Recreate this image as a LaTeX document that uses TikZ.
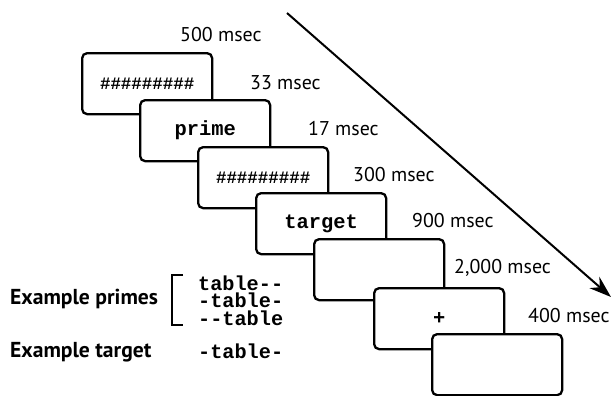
\documentclass[tikz,border=0pt]{standalone}
\usepackage{fontspec}
\setmainfont{PT Sans}
\newfontfamily\monofam{Liberation Mono}
\usetikzlibrary{arrows.meta}
\begin{document}
\begin{tikzpicture}[x=1bp,y=-1bp,
  frame/.style={draw, line width=2.3bp, rounded corners=5bp, fill=white,
    minimum width=130bp, minimum height=61bp, inner sep=0pt, anchor=north west,
    font=\monofam\bfseries\fontsize{20.5}{22}\selectfont},
  hash/.style={font=\monofam\bfseries\fontsize{17.5}{20}\selectfont},
  lab/.style={anchor=west, inner sep=0pt, font=\fontsize{20}{24}\selectfont},
  blab/.style={anchor=west, inner sep=0pt, font=\bfseries\fontsize{21.7}{24}\selectfont},
  mtxt/.style={anchor=west, inner sep=0pt, text height=11bp, text depth=0pt,
    font=\monofam\bfseries\fontsize{20.3}{22}\selectfont}]
\useasboundingbox (0,0) rectangle (612,395);
% arrow
\coordinate (as) at (287,13);
\coordinate (ae) at (611,297);
\draw[line width=2bp, -{Stealth[length=22bp,width=15bp]}] (as) -- (ae);
% boxes
\node[frame, hash] (b1) at (81,52) {\#\#\#\#\#\#\#\#\#};
\node[frame] (b2) at (139,99) {prime};
\node[frame, hash] (b3) at (197,146) {\#\#\#\#\#\#\#\#\#};
\node[frame] (b4) at (255,192) {target};
\node[frame] (b5) at (313,238) {};
\node[frame] (b6) at (373,287) {+};
\node[frame] (b7) at (431,333) {};
% durations
\node[lab] (t1) at (180,35) {500 msec};
\node[lab] (t2) at (250,83) {33 msec};
\node[lab] (t3) at (308,129) {17 msec};
\node[lab] (t4) at (353,175) {300 msec};
\node[lab] (t5) at (412,221) {900 msec};
\node[lab] (t6) at (454,268) {2,000 msec};
\node[lab] (t7) at (528,316) {400 msec};
% examples
\node[blab] (ep) at (10,299) {Example primes};
\node[blab] (et) at (10,352) {Example target};
\node[mtxt] (p1) at (198,285) {table--};
\node[mtxt] (p2) at (198,302) {-table-};
\node[mtxt] (p3) at (198,320) {--table};
\node[mtxt] (tg) at (198,353) {-table-};
\coordinate (k1) at (183,275);
\coordinate (k2) at (172,275);
\coordinate (k3) at (172,325);
\coordinate (k4) at (183,325);
\draw[line width=2bp] (k1) -- (k2) -- (k3) -- (k4);
\end{tikzpicture}
\end{document}
